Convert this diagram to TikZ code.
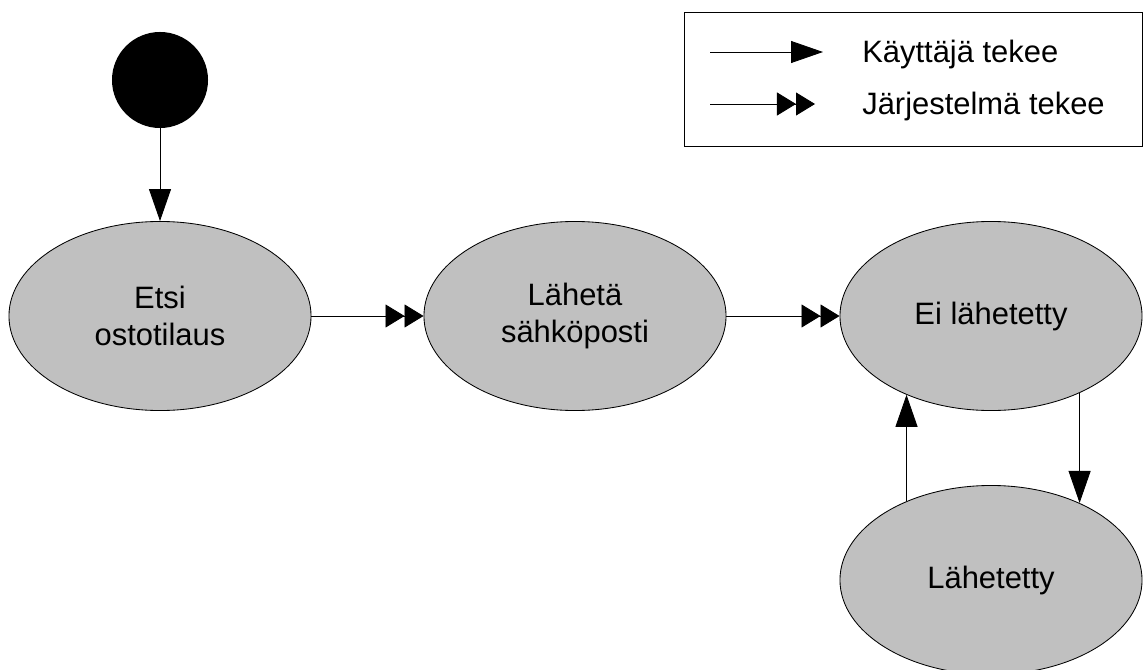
\documentclass[tikz,border=0pt]{standalone}
\usepackage{fontspec}
\setmainfont{Liberation Sans}
\usetikzlibrary{arrows.meta,shapes.geometric}
\definecolor{tilagray}{RGB}{192,192,192}

\begin{document}
\begin{tikzpicture}[x=0.025cm,y=-0.025cm,font=\fontsize{22}{26.3}\selectfont,
tila/.style={ellipse,draw=black,line width=.6pt,fill=tilagray,align=center,minimum width=7.55cm,minimum height=4.725cm,inner sep=0pt},
arr/.style={-{Triangle[length=.8cm,width=.55cm]},line width=.6pt,draw=black},
sys/.style={-{Triangle[length=.475cm,width=.575cm]Triangle[length=.475cm,width=.575cm]},line width=.6pt,draw=black}]
\useasboundingbox(0,0)rectangle(1144,670);

\node[circle,fill=black,minimum size=2.4cm,inner sep=0pt](start)at(160,80){};
\node[tila](etsi)at(160,316){Etsi\\ostotilaus};
\node[tila](laheta)at(575,316){Lähetä\\sähköposti};
\node[tila](ei)at(991,316){Ei lähetetty};
\node[tila](lahetetty)at(991,580){Lähetetty};
\draw[arr](start)--(etsi);
\draw[sys](etsi)--(laheta);
\draw[sys](laheta)--(ei);
\draw[arr](ei.-41)--(lahetetty.41);
\draw[arr](lahetetty.137)--(ei.-137);

% selite
\node[draw=black,line width=.6pt,anchor=north west,minimum width=11.45cm,minimum height=3.35cm,inner sep=0pt](legend)at(684,12){};
\coordinate(k1)at(710,52);\coordinate(k2)at(823,52);
\coordinate(j1)at(710,104);\coordinate(j2)at(815,104);
\draw[arr](k1)--(k2);
\draw[sys](j1)--(j2);
\node[anchor=base west,inner sep=0pt](kayttaja)at(862,63){Käyttäjä tekee};
\node[anchor=base west,inner sep=0pt](jarjestelma)at(862,115){Järjestelmä tekee};
\end{tikzpicture}
\end{document}
